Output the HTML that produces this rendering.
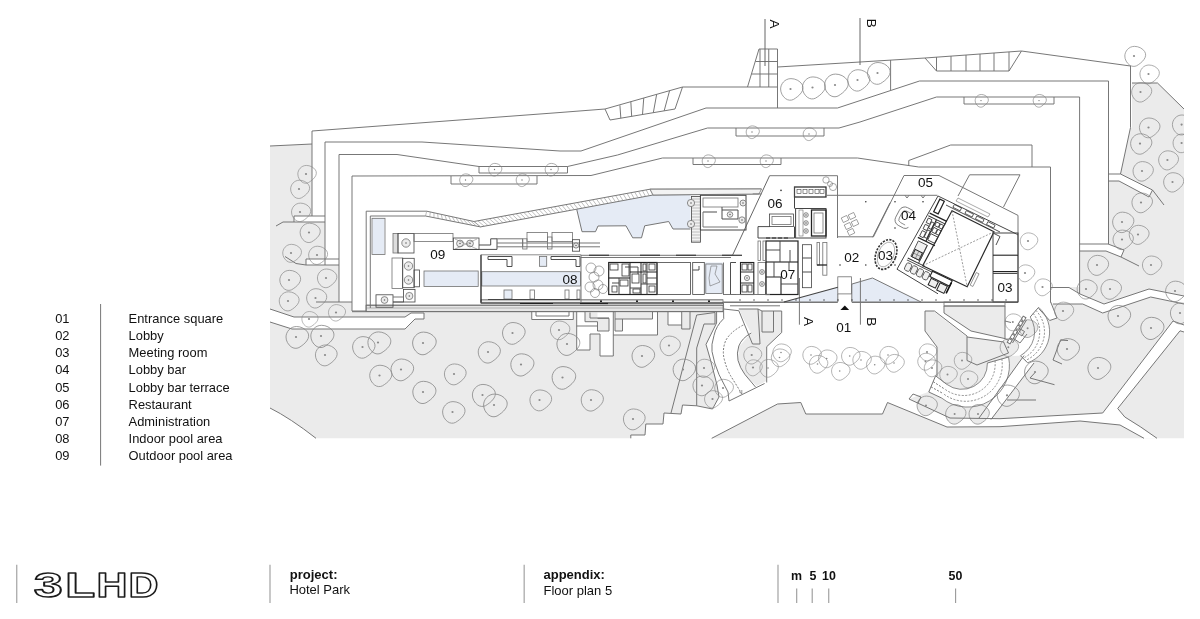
<!DOCTYPE html>
<html><head><meta charset="utf-8"><title>Hotel Park - Floor plan 5</title>
<style>
html,body{margin:0;padding:0;background:#fff;}
body{width:1200px;height:619px;overflow:hidden;position:relative;font-family:"Liberation Sans",Arial,sans-serif;}
svg{position:absolute;left:0;top:0;display:block;will-change:transform}
text{font-family:"Liberation Sans",Arial,sans-serif;}
</style></head><body>
<svg width="1200" height="619" viewBox="0 0 1200 619">
<defs>
<path id="tr" d="M0.5 -10.7 C5 -10.7 9.5 -8.5 11.8 -5 C13.5 -2.5 13.3 1 11 4 C9 6.8 6 9 3 10.8 C0.5 12 -2.5 11.8 -5 10 C-8 7.8 -10.2 4 -10.2 0 C-10.2 -5 -6 -10.7 0.5 -10.7 Z"/>
</defs>
<g id="gray">
<path d="M270 146 L312 144 L312 222 L325 222 L325 265 L339 265 L339 302 L352 302 L352 311 L716.6 311 L716.6 323 L706 344.4 L710.5 360 L717 385 L719 397 L712.5 409 L696.7 405.8 L682.5 405 L681 414 L664 413 L663 424 L645.8 424 L645 435 L630.8 435 L630.8 438.3 L316 438.3 Q290 418 270 408 Z" fill="#ebebeb"/>
<path d="M739 309 L758 309 L762 311 L781.7 311 L781.7 332.5 L766.7 346.7 L766.7 380.8 L756.7 386 L745 375 L738 361.7 L739 346.7 L750 334 Z" fill="#ebebeb" />
<path d="M1079.5 244 L1108 244 L1108 174 L1120.5 174 L1130.5 127.5 L1132 127.5 L1132 83 L1157.5 83 L1184 109 L1184 438.3 L711.7 438.3 L777.5 404 L800.8 402.5 L805.8 414 L882.5 414 L887.5 402.5 L909 399 L928 392 L935.7 375.6 L937 347 L925 331 L925 311 L944 311 L944 306 L1005 306 L1005 311 L1050.5 311 L1050.5 287 L1079.5 287 Z" fill="#ebebeb" />
</g>
<g id="white" fill="#fff">
<rect x="294" y="216" width="31" height="6" fill="#fff"/>
<rect x="306" y="259" width="33" height="6" fill="#fff"/>
<path d="M270 309 L294 317 L405 317 L411 313 L424 313 L424 319 L415 319 L405 329 L292 329 L270 322 Z" fill="#fff" />
<rect x="531.75" y="311.7" width="41.55" height="7.8" fill="#fff"/>
<path d="M576.7 311.7 L576.7 350 L590 350 L590 334 L600 334 L600 356 L613.3 356 L613.3 335 L657.5 335 L657.5 311.7 Z" fill="#fff" />
<rect x="585" y="312.5" width="12.5" height="9.2" fill="#ebebeb"/>
<rect x="597.5" y="318.3" width="11.5" height="12.7" fill="#ebebeb"/>
<rect x="615" y="312.5" width="37.5" height="6.5" fill="#ebebeb"/>
<rect x="615" y="319" width="7.5" height="12" fill="#ebebeb"/>
<path d="M668 311.7 L668 325 L681.7 325 L681.7 329 L690 329 L690 311.7 Z" fill="#fff" />
<rect x="681.7" y="312.5" width="8.3" height="16.5" fill="#ebebeb"/>
<path d="M723.7 309 L738.8 310.7 L751.2 333 Q742 338 738.8 346 Q736.5 353 738 360.4 Q740 368 745 374.6 L755.5 387 L729 401 L728 392 L719 374.6 Q714 363 712 351.5 Q711 345 714 335.5 Q716 326 723.7 318.6 Z" fill="#fff"/>
<path d="M1050.5 287.5 L1069 287.5 L1080 294 L1104 304 L1149 289 L1184 296 L1184 304 L1150.7 297 L1102.7 313 L1082.7 304 L1053 304 L1050.5 302 Z" fill="#fff" />
<path d="M1108 174 L1120.5 174 L1152.5 190 L1149 197 L1119 181 L1108 181 Z" fill="#fff" />
<path d="M1079.5 244 L1108 244 L1124 250 L1121 257 L1106 251 L1079.5 251 Z" fill="#fff" />
<path d="M1005 306 L1005 303 L1051 302 L1057 318 L1049.7 320.5 L1045 316 L1036 340 L1020.5 355.7 L1010 356 L1008.5 353 L1003.6 342 L1005 338.6 Z" fill="#fff" />
<path d="M934.5 311 L944 311 L944 313 L971 331 L1005 338.6 L1004 342 L967 337 L934.5 312 Z" fill="#fff" />
<rect x="934.5" y="305" width="9.5" height="6" fill="#fff"/>
<path d="M1008.6 357.0 A41.8 41.8 0 0 1 941.6 398.0 L946.7 384.3 A25.5 25.5 0 0 0 987.4 363.0 Z" fill="#fff"/>
<path d="M946.7 384.3 L941.6 398 L928.8 392 L935.6 375.8 Z" fill="#fff" />
<path d="M1038.6 307.3 A32.8 32.8 0 0 1 1027.6 362.8 L1020.5 355.7 A27.3 27.3 0 0 0 1030.2 317.0 Z" fill="#fff"/>
<path d="M1024 355.6 L1034 363 L991 419.5 L979 418 Z" fill="#fff" />
<path d="M1173 321 L1184 325 L1184 332 L1180 330.8 L1117.7 408.5 L1124.8 417 L1157 438.3 L1144 438.3 L1120 425 L1080 421 L1000 426.7 L947 427 L887.5 402.5 L886.5 400.5 L909 397 L909 399 L950 418 L1000 418.7 L1102.7 413 Z" fill="#fff" />
</g>
<g fill="#ebebeb" stroke="#858585" stroke-width="0.8">
<use href="#tr" transform="translate(1027.6 328.3) scale(0.8)"/><circle cx="1027.6" cy="328.3" r="1" fill="#8a8a8a" stroke="none"/>
<use href="#tr" transform="translate(1008.3 347.3) scale(0.8)"/><circle cx="1008.3" cy="347.3" r="1" fill="#8a8a8a" stroke="none"/>
<use href="#tr" transform="translate(926 405.5) scale(0.88)"/><circle cx="926" cy="405.5" r="1" fill="#8a8a8a" stroke="none"/>
<use href="#tr" transform="translate(954.6 414) scale(0.88)"/><circle cx="954.6" cy="414" r="1" fill="#8a8a8a" stroke="none"/>
<use href="#tr" transform="translate(978 414) scale(0.88)"/><circle cx="978" cy="414" r="1" fill="#8a8a8a" stroke="none"/>
</g>
<g id="blue">
<rect x="372.5" y="218" width="12" height="36" fill="#e5ebf5"/>
<rect x="424" y="271" width="54.2" height="15.4" fill="#e5ebf5"/>
<rect x="481.8" y="271.7" width="98.6" height="14.3" fill="#e5ebf5"/>
<path d="M576.7 209.2 L653 195 L690.5 194.3 L690.5 229 L673 229 L668.7 221.5 L644.7 225.8 L641.5 237.8 L632.7 237.8 L626 225.8 L598 226 L595.5 231.7 L582 231.7 Z" fill="#e5ebf5" />
<rect x="705" y="262.5" width="17.5" height="31.5" fill="#e5ebf5"/>
<path d="M783.9 302 L837.8 287.2 L837.8 302 Z" fill="#e5ebf5" />
<path d="M852 284 L872.5 278 L921 302 L852 302 Z" fill="#e5ebf5" />
</g>
<g id="site" fill="none" stroke="#707070" stroke-width="0.95">
<path d="M270 146 L312 144" fill="none" stroke="#707070" stroke-width="0.95" />
<path d="M312 216 L312 131 L560 112.5 L605 109 L682.5 87 L777.5 87" fill="none" stroke="#707070" stroke-width="0.95" />
<path d="M777.5 49 L777.5 108" fill="none" stroke="#707070" stroke-width="0.95" />
<path d="M777.5 67 L860 62 L925 58 L1021.5 51 L1130.5 66 L1130.5 127.5 L1120.5 174" fill="none" stroke="#707070" stroke-width="0.95" />
<path d="M325 265 L325 142 L422 142 L560 151 L581 151 L706 108 L837.5 108 L860 100.6 L919.5 81 L1108.5 81 L1108.5 244" fill="none" stroke="#707070" stroke-width="0.95" />
<path d="M339 302 L339 154.5 L397 154.5 L479 166.5 L567.5 166.5 L617.5 155 L707.5 128 L839 128 L860 122 L936.5 97 L1079.6 97 L1079.6 294" fill="none" stroke="#707070" stroke-width="0.95" />
<path d="M352 311 L352 176 L591 175.5 L662.5 158 L857.5 158 L918.75 167 L1050.5 167 L1050.5 302.5" fill="none" stroke="#707070" stroke-width="0.95" />
<path d="M352 311 L723 311" fill="none" stroke="#707070" stroke-width="0.95" />
<path d="M294 222 L294 216 L325 216" fill="none" stroke="#707070" stroke-width="0.95" />
<path d="M294 222 L325 222" fill="none" stroke="#707070" stroke-width="0.95" />
<path d="M306 265 L306 259 L339 259" fill="none" stroke="#707070" stroke-width="0.95" />
<path d="M306 265 L339 265" fill="none" stroke="#707070" stroke-width="0.95" />
<path d="M316 302 L352 302" fill="none" stroke="#707070" stroke-width="0.95" />
<path d="M285 256.5 L296 263.5 L306 265" fill="none" stroke="#707070" stroke-width="0.95" />
<path d="M276 226 L283 222 L294 222" fill="none" stroke="#707070" stroke-width="0.95" />
<path d="M451 176 L451 184 L537 184 L537 176" fill="none" stroke="#707070" stroke-width="0.95" />
<path d="M479 166.5 L479 173 L567.5 173 L567.5 166.5" fill="none" stroke="#707070" stroke-width="0.95" />
<path d="M736 128 L736 136 L824 136 L824 128" fill="none" stroke="#707070" stroke-width="0.95" />
<path d="M693 158 L693 164.5 L781 164.5 L781 158" fill="none" stroke="#707070" stroke-width="0.95" />
<path d="M964 97 L964 104 L1054 104 L1054 97" fill="none" stroke="#707070" stroke-width="0.95" />
<path d="M908.75 166 L908.75 160.5 L950.7 145 L1032 145 L1032 167" fill="none" stroke="#707070" stroke-width="0.95" />
<path d="M605 109 L610 120 L675 109 L682.5 87" fill="none" stroke="#707070" stroke-width="0.95" />
<path d="M619.917 105.333 L620.833 118.167" fill="none" stroke="#707070" stroke-width="0.95" />
<path d="M630.833 101.667 L631.667 116.333" fill="none" stroke="#707070" stroke-width="0.95" />
<path d="M643.75 98 L642.5 114.5" fill="none" stroke="#707070" stroke-width="0.95" />
<path d="M656.667 94.3333 L653.333 112.667" fill="none" stroke="#707070" stroke-width="0.95" />
<path d="M669.583 90.6667 L664.167 110.833" fill="none" stroke="#707070" stroke-width="0.95" />
<path d="M777.5 49 L759 49 L747.5 87" fill="none" stroke="#707070" stroke-width="0.95" />
<path d="M760 49 L760 87" fill="none" stroke="#707070" stroke-width="0.95" />
<path d="M768.75 49 L768.75 87" fill="none" stroke="#707070" stroke-width="0.95" />
<path d="M755.5 61.5 L777.5 61.5" fill="none" stroke="#707070" stroke-width="0.95" />
<path d="M751.5 74 L777.5 74" fill="none" stroke="#707070" stroke-width="0.95" />
<path d="M925 58 L936.5 71 L1009 71 L1021.5 51" fill="none" stroke="#707070" stroke-width="0.95" />
<path d="M936.5 57.1658 L936.5 71" fill="none" stroke="#707070" stroke-width="0.95" />
<path d="M951 56.114 L951 71" fill="none" stroke="#707070" stroke-width="0.95" />
<path d="M966 55.0259 L966 71" fill="none" stroke="#707070" stroke-width="0.95" />
<path d="M980 54.0104 L980 71" fill="none" stroke="#707070" stroke-width="0.95" />
<path d="M994 52.9948 L994 71" fill="none" stroke="#707070" stroke-width="0.95" />
<path d="M1009 51.9067 L1009 71" fill="none" stroke="#707070" stroke-width="0.95" />
<path d="M890.6 60 L890.6 90" fill="none" stroke="#707070" stroke-width="0.95" />
<path d="M765 19 L765 66" fill="none" stroke="#666" stroke-width="1.0" />
<path d="M860 18 L860 65" fill="none" stroke="#666" stroke-width="1.0" />
<path d="M799.4 278 L799.4 324.7" fill="none" stroke="#777" stroke-width="1.0" />
<path d="M860.4 278 L860.4 324.7" fill="none" stroke="#777" stroke-width="1.0" />
<path d="M270 309 L294 317 L405 317 L411 313 L424 313 L424 319 L415 319 L405 329 L292 329 L270 322" fill="none" stroke="#707070" stroke-width="0.95" />
<path d="M270 408 Q290 418 316 438.3"/>
<path d="M531.75 311.7 L531.75 319.5 L573.3 319.5 L573.3 311.7" fill="none" stroke="#707070" stroke-width="0.95" />
<path d="M536 311.7 L536 316 L569 316 L569 311.7" fill="none" stroke="#707070" stroke-width="0.95" />
<path d="M576.7 311.7 L576.7 350 L590 350 L590 334 L600 334 L600 356 L613.3 356 L613.3 311.7" fill="none" stroke="#707070" stroke-width="0.95" />
<path d="M613.3 335 L657.5 335 L657.5 311.7" fill="none" stroke="#707070" stroke-width="0.95" />
<path d="M585 311.7 L585 321.7 L597.5 321.7 L597.5 331 L609 331 L609 318.3 L597.5 318.3" fill="none" stroke="#707070" stroke-width="0.95" />
<path d="M576.7 326 L597.5 326" fill="none" stroke="#707070" stroke-width="0.95" />
<path d="M590 312.5 L590 318 L609 318" fill="none" stroke="#707070" stroke-width="0.95" />
<path d="M615 319 L652.5 319 L652.5 311.7" fill="none" stroke="#707070" stroke-width="0.95" />
<path d="M615 312 L615 331 L622.5 331 L622.5 319" fill="none" stroke="#707070" stroke-width="0.95" />
<path d="M668 311.7 L668 325 L681.7 325 L681.7 329 L690 329 L690 311.7" fill="none" stroke="#707070" stroke-width="0.95" />
<path d="M681.7 311.7 L681.7 325" fill="none" stroke="#707070" stroke-width="0.95" />
<path d="M696.7 315 L671 413" fill="none" stroke="#707070" stroke-width="0.95" />
<path d="M696.7 315 L715 312.5 L715 324 L704 324 L696.7 348 L696.7 405.8" fill="none" stroke="#707070" stroke-width="0.95" />
<path d="M716.6 312 L716.6 323 L706 344.4 L710.5 360 L717 385 L719 397 L712.5 409" fill="none" stroke="#707070" stroke-width="0.95" />
<path d="M723.5 303 L723.7 318.6 Q716 326 714 335.5 Q711 345 712 351.5 Q714 363 719 374.6 L728 392 L729 401 L764.6 383.5"/>
<path d="M751.2 333 Q742 338 738.8 346 Q736.5 353 738 360.4 Q740 368 745 374.6 L755.5 387"/>
<path d="M743.3 325 Q730 332 725.5 341 Q722.5 349 723.7 356.8 Q726 368 731 376.4 L741.5 393.3" stroke-dasharray="2 1.5"/>
<path d="M739 391.5 L741.8 393.8 L741.8 390" stroke-width="0.7"/>
<path d="M723.7 309 L738.8 310.7 L752.5 344 L760 344 L758 309 L738.8 309" fill="none" stroke="#707070" stroke-width="0.95" />
<path d="M758 309 L762 311 L781.7 311 L781.7 332.5 L766.7 346.7 L766.7 382.5" fill="none" stroke="#707070" stroke-width="0.95" />
<path d="M762 311 L762 332 L773.5 332 L773.5 311" fill="none" stroke="#707070" stroke-width="0.95" />
<path d="M712.5 409 L696.7 405.8 L682.5 405 L681 414 L664 413 L663 424 L645.8 424 L645 435 L630.8 435 L630.8 438.3" fill="none" stroke="#707070" stroke-width="0.95" />
<path d="M711.7 438.3 L777.5 404 L800.8 402.5 L805.8 414 L882.5 414 L887.5 402.5 L947 427 L1000 426.7 L1080 421 L1120 425 L1144 438.3" fill="none" stroke="#707070" stroke-width="0.95" />
<path d="M909 399 L950 418 L1000 418.7 L1102.7 413 L1173 321 L1184 325" fill="none" stroke="#707070" stroke-width="0.95" />
<path d="M1184 332 L1180 330.8 L1117.7 408.5 L1124.8 417" fill="none" stroke="#707070" stroke-width="0.95" />
<path d="M1124.8 417 Q1140 426 1157 438.3"/>
<path d="M909 399 L913 394 L921 397 L918 403" fill="none" stroke="#707070" stroke-width="0.95" />
<path d="M937 376 L937 347 L925 331 L925 311 L934.5 311 L967 336 L967 360.5 L977 365 L1008.5 353 L1003.6 342" fill="none" stroke="#707070" stroke-width="0.95" />
<path d="M944 311 L944 306 L1005 306 L1005 338.6 L971 331 L944 313 L944 311" fill="none" stroke="#707070" stroke-width="0.95" />
<path d="M967 337 L1004 342" fill="none" stroke="#707070" stroke-width="0.95" />
<path d="M1008.6 357.0 A41.8 41.8 0 0 1 941.6 398.0" fill="none" stroke="#707070" stroke-width="0.8" />
<path d="M987.4 363.0 A25.5 25.5 0 0 1 946.7 384.3" fill="none" stroke="#707070" stroke-width="0.8" />
<path d="M995.0 360.8 A31.4 31.4 0 0 1 944.9 389.2" fill="none" stroke="#707070" stroke-width="0.8" stroke-dasharray="2 1.5"/>
<path d="M1001.8 358.9 A36.6 36.6 0 0 1 943.2 393.6" fill="none" stroke="#707070" stroke-width="0.8" stroke-dasharray="2 1.5"/>
<path d="M1038.6 307.3 A32.8 32.8 0 0 1 1027.6 362.8" fill="none" stroke="#707070" stroke-width="0.8" />
<path d="M1030.2 317.0 A27.3 27.3 0 0 1 1020.5 355.7" fill="none" stroke="#707070" stroke-width="0.8" />
<path d="M1033.2 313.5 A29.3 29.3 0 0 1 1023.1 358.3" fill="none" stroke="#707070" stroke-width="0.8" stroke-dasharray="2 1.5"/>
<path d="M1035.9 310.4 A31.0 31.0 0 0 1 1025.3 360.5" fill="none" stroke="#707070" stroke-width="0.8" stroke-dasharray="2 1.5"/>
<path d="M946.7 384.3 L935.6 375.8 L928.8 392 L941.6 398" fill="none" stroke="#707070" stroke-width="0.95" />
<path d="M933.152 381.632 L944.864 389.232" fill="none" stroke="#707070" stroke-width="0.95" stroke-dasharray="2 1.5"/>
<path d="M930.976 386.816 L943.232 393.616" fill="none" stroke="#707070" stroke-width="0.95" stroke-dasharray="2 1.5"/>
<path d="M987.4 363 L1008.6 357" fill="none" stroke="#707070" stroke-width="0.95" />
<path d="M1030.2 317 L1038.6 307.3" fill="none" stroke="#707070" stroke-width="0.95" />
<path d="M1020.5 355.7 L1027.6 362.8" fill="none" stroke="#707070" stroke-width="0.95" />
<path d="M1024 355.6 L979 418" fill="none" stroke="#707070" stroke-width="0.95" />
<path d="M1034 363 L991 419.5" fill="none" stroke="#707070" stroke-width="0.95" />
<rect x="1008.1" y="339.2" width="3.2" height="4.2" fill="#fff" transform="rotate(31 1009.7 341.3)"/>
<rect x="1010.9" y="334.7" width="3.2" height="4.2" fill="#fff" transform="rotate(31 1012.5 336.8)"/>
<rect x="1013.6" y="330.2" width="3.2" height="4.2" fill="#fff" transform="rotate(31 1015.2 332.3)"/>
<rect x="1016.4" y="325.6" width="3.2" height="4.2" fill="#fff" transform="rotate(31 1018.0 327.7)"/>
<rect x="1019.1" y="321.1" width="3.2" height="4.2" fill="#fff" transform="rotate(31 1020.7 323.2)"/>
<rect x="1021.9" y="316.6" width="3.2" height="4.2" fill="#fff" transform="rotate(31 1023.5 318.7)"/>
<path d="M1012.5 343 L1026.5 320" fill="none" stroke="#707070" stroke-width="0.95" />
<path d="M1016 332 L1022 336 L1024.5 331.5 L1018.5 328" fill="none" stroke="#707070" stroke-width="0.95" />
<path d="M1013 338 L1020 343 L1027 334" fill="none" stroke="#707070" stroke-width="0.95" />
<path d="M1005 321 L1011 322.5" fill="none" stroke="#707070" stroke-width="0.95" />
<path d="M1005 338.6 L1008 340" fill="none" stroke="#707070" stroke-width="0.95" />
<path d="M1060.6 339.8 L1068 340.5" fill="none" stroke="#707070" stroke-width="1.2" />
<path d="M1060.6 339.8 L1053 360 L1062 364" fill="none" stroke="#707070" stroke-width="0.95" />
<path d="M1035 372.6 L1030 378 L1054.5 384.7" fill="none" stroke="#707070" stroke-width="0.95" />
<path d="M1007 400 L1036 400" fill="none" stroke="#707070" stroke-width="0.95" />
<path d="M1050.5 287.5 L1069 287.5 L1080 294 L1104 304 L1149 289 L1184 296" fill="none" stroke="#707070" stroke-width="0.95" />
<path d="M1050.7 302 L1057 318 L1049.7 320.5 L1038.6 308.4" fill="none" stroke="#707070" stroke-width="0.95" />
<path d="M1053 304 L1082.7 304 L1102.7 313 L1150.7 297 L1184 304" fill="none" stroke="#707070" stroke-width="0.95" />
<path d="M1108 174 L1120.5 174 L1152.5 190 L1149 197 L1119 181 L1108 181" fill="none" stroke="#707070" stroke-width="0.95" />
<path d="M1152.5 190 L1164 205" fill="none" stroke="#707070" stroke-width="0.95" />
<path d="M1079.5 244 L1108 244 L1124 250 L1121 257 L1106 251 L1079.5 251" fill="none" stroke="#707070" stroke-width="0.95" />
<path d="M1121 257 L1139 266" fill="none" stroke="#707070" stroke-width="0.95" />
<path d="M1132 83 L1157.5 83 L1184 109" fill="none" stroke="#707070" stroke-width="0.95" />
</g>
<g id="bldg" fill="none" stroke="#707070" stroke-width="0.8">
<rect x="366" y="305.2" width="357" height="6.4" fill="#e6e6e6"/>
<path d="M366 305.2 L723 305.2" fill="none" stroke="#707070" stroke-width="0.95" />
<path d="M366 308 L723 308" fill="none" stroke="#9a9a9a" stroke-width="0.7" />
<rect x="481" y="299.8" width="242" height="3.6" fill="#ececec"/>
<path d="M481 299.8 L723 299.8" fill="none" stroke="#8a8a8a" stroke-width="0.8" />
<rect x="600" y="300.4" width="2" height="1.6" fill="#222" stroke="none"/>
<rect x="636" y="300.4" width="2" height="1.6" fill="#222" stroke="none"/>
<rect x="672" y="300.4" width="2" height="1.6" fill="#222" stroke="none"/>
<rect x="708" y="300.4" width="2" height="1.6" fill="#222" stroke="none"/>
<path d="M352 311.7 L723 311.7" fill="none" stroke="#707070" stroke-width="0.95" />
<path d="M366.2 311 L366.2 211.2 L426.7 211.2 L474 221.5 L650 189.2 L761.5 189" fill="none" stroke="#707070" stroke-width="0.95" />
<path d="M370.3 308 L370.3 216 L425.5 216 L480.5 226.9 L576.7 209.2 L653 195 L752.7 194" fill="none" stroke="#707070" stroke-width="0.95" />
<path d="M426.7 211.2 L425.5 216" fill="none" stroke="#909090" stroke-width="0.6" />
<path d="M430.338 211.992 L429.731 216.838" fill="none" stroke="#909090" stroke-width="0.6" />
<path d="M433.977 212.785 L433.962 217.677" fill="none" stroke="#909090" stroke-width="0.6" />
<path d="M437.615 213.577 L438.192 218.515" fill="none" stroke="#909090" stroke-width="0.6" />
<path d="M441.254 214.369 L442.423 219.354" fill="none" stroke="#909090" stroke-width="0.6" />
<path d="M444.892 215.162 L446.654 220.192" fill="none" stroke="#909090" stroke-width="0.6" />
<path d="M448.531 215.954 L450.885 221.031" fill="none" stroke="#909090" stroke-width="0.6" />
<path d="M452.169 216.746 L455.115 221.869" fill="none" stroke="#909090" stroke-width="0.6" />
<path d="M455.808 217.538 L459.346 222.708" fill="none" stroke="#909090" stroke-width="0.6" />
<path d="M459.446 218.331 L463.577 223.546" fill="none" stroke="#909090" stroke-width="0.6" />
<path d="M463.085 219.123 L467.808 224.385" fill="none" stroke="#909090" stroke-width="0.6" />
<path d="M466.723 219.915 L472.038 225.223" fill="none" stroke="#909090" stroke-width="0.6" />
<path d="M470.362 220.708 L476.269 226.062" fill="none" stroke="#909090" stroke-width="0.6" />
<path d="M474 221.5 L480.5 226.9" fill="none" stroke="#909090" stroke-width="0.6" />
<path d="M474 221.5 L480.5 226.9" fill="none" stroke="#909090" stroke-width="0.6" />
<path d="M477.826 220.798 L484.25 226.207" fill="none" stroke="#909090" stroke-width="0.6" />
<path d="M481.652 220.096 L488 225.513" fill="none" stroke="#909090" stroke-width="0.6" />
<path d="M485.478 219.393 L491.75 224.82" fill="none" stroke="#909090" stroke-width="0.6" />
<path d="M489.304 218.691 L495.5 224.126" fill="none" stroke="#909090" stroke-width="0.6" />
<path d="M493.13 217.989 L499.25 223.433" fill="none" stroke="#909090" stroke-width="0.6" />
<path d="M496.957 217.287 L503 222.739" fill="none" stroke="#909090" stroke-width="0.6" />
<path d="M500.783 216.585 L506.75 222.046" fill="none" stroke="#909090" stroke-width="0.6" />
<path d="M504.609 215.883 L510.5 221.352" fill="none" stroke="#909090" stroke-width="0.6" />
<path d="M508.435 215.18 L514.25 220.659" fill="none" stroke="#909090" stroke-width="0.6" />
<path d="M512.261 214.478 L518 219.965" fill="none" stroke="#909090" stroke-width="0.6" />
<path d="M516.087 213.776 L521.75 219.272" fill="none" stroke="#909090" stroke-width="0.6" />
<path d="M519.913 213.074 L525.5 218.578" fill="none" stroke="#909090" stroke-width="0.6" />
<path d="M523.739 212.372 L529.25 217.885" fill="none" stroke="#909090" stroke-width="0.6" />
<path d="M527.565 211.67 L533 217.191" fill="none" stroke="#909090" stroke-width="0.6" />
<path d="M531.391 210.967 L536.75 216.498" fill="none" stroke="#909090" stroke-width="0.6" />
<path d="M535.217 210.265 L540.5 215.804" fill="none" stroke="#909090" stroke-width="0.6" />
<path d="M539.043 209.563 L544.25 215.111" fill="none" stroke="#909090" stroke-width="0.6" />
<path d="M542.87 208.861 L548 214.417" fill="none" stroke="#909090" stroke-width="0.6" />
<path d="M546.696 208.159 L551.75 213.724" fill="none" stroke="#909090" stroke-width="0.6" />
<path d="M550.522 207.457 L555.5 213.03" fill="none" stroke="#909090" stroke-width="0.6" />
<path d="M554.348 206.754 L559.25 212.337" fill="none" stroke="#909090" stroke-width="0.6" />
<path d="M558.174 206.052 L563 211.643" fill="none" stroke="#909090" stroke-width="0.6" />
<path d="M562 205.35 L566.75 210.95" fill="none" stroke="#909090" stroke-width="0.6" />
<path d="M565.826 204.648 L570.5 210.257" fill="none" stroke="#909090" stroke-width="0.6" />
<path d="M569.652 203.946 L574.25 209.563" fill="none" stroke="#909090" stroke-width="0.6" />
<path d="M573.478 203.243 L578 208.87" fill="none" stroke="#909090" stroke-width="0.6" />
<path d="M577.304 202.541 L581.75 208.176" fill="none" stroke="#909090" stroke-width="0.6" />
<path d="M581.13 201.839 L585.5 207.483" fill="none" stroke="#909090" stroke-width="0.6" />
<path d="M584.957 201.137 L589.25 206.789" fill="none" stroke="#909090" stroke-width="0.6" />
<path d="M588.783 200.435 L593 206.096" fill="none" stroke="#909090" stroke-width="0.6" />
<path d="M592.609 199.733 L596.75 205.402" fill="none" stroke="#909090" stroke-width="0.6" />
<path d="M596.435 199.03 L600.5 204.709" fill="none" stroke="#909090" stroke-width="0.6" />
<path d="M600.261 198.328 L604.25 204.015" fill="none" stroke="#909090" stroke-width="0.6" />
<path d="M604.087 197.626 L608 203.322" fill="none" stroke="#909090" stroke-width="0.6" />
<path d="M607.913 196.924 L611.75 202.628" fill="none" stroke="#909090" stroke-width="0.6" />
<path d="M611.739 196.222 L615.5 201.935" fill="none" stroke="#909090" stroke-width="0.6" />
<path d="M615.565 195.52 L619.25 201.241" fill="none" stroke="#909090" stroke-width="0.6" />
<path d="M619.391 194.817 L623 200.548" fill="none" stroke="#909090" stroke-width="0.6" />
<path d="M623.217 194.115 L626.75 199.854" fill="none" stroke="#909090" stroke-width="0.6" />
<path d="M627.043 193.413 L630.5 199.161" fill="none" stroke="#909090" stroke-width="0.6" />
<path d="M630.87 192.711 L634.25 198.467" fill="none" stroke="#909090" stroke-width="0.6" />
<path d="M634.696 192.009 L638 197.774" fill="none" stroke="#909090" stroke-width="0.6" />
<path d="M638.522 191.307 L641.75 197.08" fill="none" stroke="#909090" stroke-width="0.6" />
<path d="M642.348 190.604 L645.5 196.387" fill="none" stroke="#909090" stroke-width="0.6" />
<path d="M646.174 189.902 L649.25 195.693" fill="none" stroke="#909090" stroke-width="0.6" />
<path d="M650 189.2 L653 195" fill="none" stroke="#909090" stroke-width="0.6" />
<path d="M650 189.2 L761.5 189 L759 194 L653 195 Z" fill="#f3f3f3" />
<path d="M576.7 209.2 L582 231.7 L595.5 231.7 L598 226 L626 225.8 L632.7 237.8 L641.5 237.8 L644.7 225.8 L668.7 221.5 L673 229 L690.5 229" fill="none" stroke="#707070" stroke-width="0.95" />
<rect x="372" y="218.3" width="13" height="36.1" fill="none" stroke="#707070" stroke-width="0.8"/>
<rect x="424" y="271" width="54.2" height="15.4" fill="none" stroke="#707070" stroke-width="0.8"/>
<rect x="481.8" y="271.7" width="98.6" height="14.3" fill="none" stroke="#707070" stroke-width="0.8"/>
<rect x="393" y="233.4" width="5" height="19.6" fill="#ddd" stroke="#707070" stroke-width="0.8"/>
<rect x="398" y="233.4" width="16" height="19.6" fill="none" stroke="#444" stroke-width="0.8"/>
<circle cx="406" cy="243" r="4.2" fill="#ebebeb"/><circle cx="406" cy="243" r="0.8" fill="#666" stroke="none"/>
<rect x="392" y="258" width="10.7" height="30.5" fill="none" stroke="#707070" stroke-width="0.8"/>
<rect x="402.7" y="258.3" width="11.5" height="29.4" fill="none" stroke="#444" stroke-width="0.8"/>
<circle cx="408.5" cy="266" r="4.2" fill="#ebebeb"/><circle cx="408.5" cy="266" r="0.8" fill="#666" stroke="none"/>
<circle cx="408.5" cy="280" r="4.2" fill="#ebebeb"/><circle cx="408.5" cy="280" r="0.8" fill="#666" stroke="none"/>
<rect x="414" y="270" width="5.5" height="16.8" fill="none" stroke="#444" stroke-width="0.8"/>
<rect x="403.5" y="289.4" width="11.5" height="12.6" fill="none" stroke="#444" stroke-width="0.8"/>
<circle cx="409.3" cy="296" r="3.6" fill="#ebebeb"/><circle cx="409.3" cy="296" r="0.8" fill="#666" stroke="none"/>
<rect x="376" y="294.8" width="17" height="12.4" fill="none" stroke="#444" stroke-width="0.8"/>
<circle cx="384.5" cy="300" r="3.4" fill="#ebebeb"/><circle cx="384.5" cy="300" r="0.8" fill="#666" stroke="none"/>
<path d="M393 302 L403.5 302" fill="none" stroke="#444" stroke-width="1.2" />
<path d="M393 297 L403.5 297" fill="none" stroke="#707070" stroke-width="0.95" />
<rect x="414" y="233.4" width="39" height="8" fill="none" stroke="#707070" stroke-width="0.8"/>
<rect x="453.3" y="238" width="25.7" height="11.4" fill="none" stroke="#444" stroke-width="0.8"/>
<circle cx="460" cy="243.5" r="3.4" fill="#ebebeb"/><circle cx="460" cy="243.5" r="0.8" fill="#666" stroke="none"/>
<circle cx="470" cy="243.5" r="3.4" fill="#ebebeb"/><circle cx="470" cy="243.5" r="0.8" fill="#666" stroke="none"/>
<path d="M455 239 L477 249" fill="none" stroke="#707070" stroke-width="0.5" />
<path d="M455 249 L477 239" fill="none" stroke="#707070" stroke-width="0.5" />
<path d="M479 245 L490.7 245 L490.7 238.8 L497 238.8 L497 249.4 L453.3 249.4" fill="none" stroke="#444" stroke-width="0.95" />
<path d="M497 238.8 L522.7 238.8 L522.7 246.8 L497 246.8" fill="none" stroke="#707070" stroke-width="0.95" />
<rect x="527" y="232.5" width="20.5" height="8.9" fill="none" stroke="#707070" stroke-width="0.8"/>
<rect x="552" y="232.5" width="20.4" height="8.9" fill="none" stroke="#707070" stroke-width="0.8"/>
<path d="M497 243 L600 243" fill="none" stroke="#707070" stroke-width="0.95" />
<path d="M522.7 246.8 L600 246.8" fill="none" stroke="#707070" stroke-width="0.95" />
<rect x="522.7" y="238.8" width="4.3" height="10.2" fill="none" stroke="#707070" stroke-width="0.8"/>
<rect x="547.5" y="237" width="4.5" height="12" fill="none" stroke="#707070" stroke-width="0.8"/>
<rect x="572.4" y="239.7" width="7.2" height="11.5" fill="none" stroke="#444" stroke-width="0.8"/>
<circle cx="576" cy="245.5" r="2.6" fill="#ebebeb"/><circle cx="576" cy="245.5" r="0.8" fill="#666" stroke="none"/>
<path d="M481 254.8 L481 302.8" fill="none" stroke="#222" stroke-width="1.3" />
<path d="M481 254.8 L581 254.8" fill="none" stroke="#707070" stroke-width="0.8" />
<path d="M481 302.8 L723 302.8" fill="none" stroke="#444" stroke-width="1.0" />
<path d="M581 254.8 L581 302.8" fill="none" stroke="#707070" stroke-width="0.95" />
<path d="M488 256.5 L512 256.5 L512 266.5 L507 266.5 L507 259.5 L488 259.5 L488 256.5" fill="none" stroke="#444" stroke-width="0.95" />
<path d="M551 256.5 L580 256.5 L580 266.5 L576 266.5 L576 259.5 L551 259.5 L551 256.5" fill="none" stroke="#444" stroke-width="0.95" />
<rect x="539.5" y="256.5" width="7.2" height="9.8" fill="#e5ebf5" stroke="#707070" stroke-width="0.8"/>
<rect x="504" y="290" width="8" height="9" fill="#e8eef7" stroke="#707070" stroke-width="0.8"/>
<rect x="530" y="290" width="4.5" height="9" fill="none" stroke="#707070" stroke-width="0.8"/>
<rect x="565" y="290" width="4" height="9" fill="none" stroke="#707070" stroke-width="0.8"/>
<rect x="577" y="290" width="3" height="9" fill="none" stroke="#707070" stroke-width="0.8"/>
<path d="M488 299.5 L580 299.5" fill="none" stroke="#444" stroke-width="1.0" />
<path d="M520 303.5 L553 303.5" fill="none" stroke="#222" stroke-width="1.2" />
<path d="M580 303.5 L608 303.5" fill="none" stroke="#222" stroke-width="1.2" />
<circle cx="591" cy="268" r="5" stroke-width="0.6"/>
<circle cx="599" cy="271" r="5" stroke-width="0.6"/>
<circle cx="594" cy="277" r="5" stroke-width="0.6"/>
<circle cx="590" cy="287" r="5" stroke-width="0.6"/>
<circle cx="598" cy="285" r="5" stroke-width="0.6"/>
<circle cx="603" cy="289" r="4.5" stroke-width="0.6"/>
<circle cx="595" cy="293" r="4.5" stroke-width="0.6"/>
<path d="M581 255.3 L733 255.3" fill="none" stroke="#707070" stroke-width="0.95" />
<path d="M581 257.5 L731 257.5" fill="none" stroke="#707070" stroke-width="0.95" />
<path d="M589 255.3 L609 255.3" fill="none" stroke="#444" stroke-width="1.3" />
<path d="M640 255.3 L660 255.3" fill="none" stroke="#444" stroke-width="1.3" />
<path d="M676 255.3 L696 255.3" fill="none" stroke="#444" stroke-width="1.3" />
<path d="M722 255.3 L742 255.3" fill="none" stroke="#444" stroke-width="1.3" />
<rect x="608.7" y="262.5" width="48.3" height="32" fill="none" stroke="#222" stroke-width="1.2"/>
<path d="M608.7 278 L630 278" fill="none" stroke="#222" stroke-width="1.1" />
<path d="M630 262.5 L630 294.5" fill="none" stroke="#222" stroke-width="1.0" />
<path d="M641 262.5 L641 294.5" fill="none" stroke="#222" stroke-width="1.0" />
<path d="M630 272 L657 272" fill="none" stroke="#222" stroke-width="1.0" />
<path d="M619 278 L619 294.5" fill="none" stroke="#444" stroke-width="0.95" />
<path d="M641 284 L657 284" fill="none" stroke="#444" stroke-width="0.95" />
<path d="M625 267 L638 267 L638 274" fill="none" stroke="#444" stroke-width="0.95" />
<path d="M647 262.5 L647 294.5" fill="none" stroke="#444" stroke-width="0.95" />
<path d="M630 288 L641 288" fill="none" stroke="#444" stroke-width="0.95" />
<path d="M612 283 L619 283" fill="none" stroke="#444" stroke-width="0.95" />
<path d="M647 278 L657 278" fill="none" stroke="#444" stroke-width="0.95" />
<rect x="610" y="264" width="8" height="6" fill="none" stroke="#333" stroke-width="0.8"/>
<rect x="620" y="280" width="8" height="6" fill="none" stroke="#333" stroke-width="0.8"/>
<rect x="632" y="274" width="7" height="9" fill="none" stroke="#333" stroke-width="0.8"/>
<rect x="643" y="264" width="3" height="7" fill="none" stroke="#333" stroke-width="0.8"/>
<rect x="649" y="286" width="6" height="6" fill="none" stroke="#333" stroke-width="0.8"/>
<rect x="633" y="289" width="7" height="4" fill="none" stroke="#333" stroke-width="0.8"/>
<rect x="612" y="286" width="5" height="6" fill="none" stroke="#333" stroke-width="0.8"/>
<rect x="622" y="264" width="7" height="12" fill="none" stroke="#333" stroke-width="0.8"/>
<rect x="643" y="274" width="3" height="9" fill="none" stroke="#333" stroke-width="0.8"/>
<rect x="649" y="264" width="6" height="6" fill="none" stroke="#333" stroke-width="0.8"/>
<rect x="657" y="262.5" width="33.5" height="32" fill="none" stroke="#444" stroke-width="0.8"/>
<rect x="692.7" y="262.5" width="11.6" height="32" fill="none" stroke="#444" stroke-width="0.8"/>
<path d="M692.7 270 L699 270 L699 266" fill="none" stroke="#444" stroke-width="0.95" />
<rect x="705.8" y="264" width="16.4" height="29.5" fill="none" stroke="#707070" stroke-width="0.8"/>
<path d="M711 266 L717 266 L715 274 L720 282 L710 286 L709 278 L711 266" fill="none" stroke="#707070" stroke-width="0.6" />
<path d="M723.5 262.5 L723.5 294.5" fill="none" stroke="#707070" stroke-width="0.95" />
<path d="M736 262.5 L730.5 262.5 L730.5 294.5 L736 294.5" fill="none" stroke="#444" stroke-width="0.95" />
<rect x="740.5" y="262.5" width="13.3" height="32" fill="none" stroke="#222" stroke-width="1.1"/>
<path d="M740.5 272 L753.8 272" fill="none" stroke="#222" stroke-width="0.95" />
<path d="M740.5 283 L753.8 283" fill="none" stroke="#222" stroke-width="0.95" />
<circle cx="747" cy="278" r="2.6" fill="#ebebeb"/><circle cx="747" cy="278" r="0.8" fill="#666" stroke="none"/>
<rect x="742" y="264" width="5" height="6" fill="none" stroke="#333" stroke-width="0.8"/>
<rect x="748" y="264" width="4" height="6" fill="none" stroke="#333" stroke-width="0.8"/>
<rect x="742" y="285" width="5" height="7" fill="none" stroke="#333" stroke-width="0.8"/>
<rect x="748" y="285" width="4" height="7" fill="none" stroke="#333" stroke-width="0.8"/>
<rect x="758" y="262.5" width="7.8" height="32" fill="none" stroke="#707070" stroke-width="0.8"/>
<circle cx="762" cy="272" r="2.4" fill="#ebebeb"/><circle cx="762" cy="272" r="0.8" fill="#666" stroke="none"/>
<circle cx="762" cy="284" r="2.4" fill="#ebebeb"/><circle cx="762" cy="284" r="0.8" fill="#666" stroke="none"/>
<rect x="691.6" y="196.4" width="8.8" height="45.8" fill="#f2f2f2" stroke="#444" stroke-width="0.8"/>
<path d="M691.6 199 L700.4 199" fill="none" stroke="#707070" stroke-width="0.4" />
<path d="M691.6 202 L700.4 202" fill="none" stroke="#707070" stroke-width="0.4" />
<path d="M691.6 205 L700.4 205" fill="none" stroke="#707070" stroke-width="0.4" />
<path d="M691.6 208 L700.4 208" fill="none" stroke="#707070" stroke-width="0.4" />
<path d="M691.6 211 L700.4 211" fill="none" stroke="#707070" stroke-width="0.4" />
<path d="M691.6 214 L700.4 214" fill="none" stroke="#707070" stroke-width="0.4" />
<path d="M691.6 217 L700.4 217" fill="none" stroke="#707070" stroke-width="0.4" />
<path d="M691.6 220 L700.4 220" fill="none" stroke="#707070" stroke-width="0.4" />
<path d="M691.6 223 L700.4 223" fill="none" stroke="#707070" stroke-width="0.4" />
<path d="M691.6 226 L700.4 226" fill="none" stroke="#707070" stroke-width="0.4" />
<path d="M691.6 229 L700.4 229" fill="none" stroke="#707070" stroke-width="0.4" />
<path d="M691.6 232 L700.4 232" fill="none" stroke="#707070" stroke-width="0.4" />
<path d="M691.6 235 L700.4 235" fill="none" stroke="#707070" stroke-width="0.4" />
<path d="M691.6 238 L700.4 238" fill="none" stroke="#707070" stroke-width="0.4" />
<path d="M691.6 241 L700.4 241" fill="none" stroke="#707070" stroke-width="0.4" />
<circle cx="691" cy="203" r="3.6" fill="#ebebeb"/><circle cx="691" cy="203" r="0.8" fill="#666" stroke="none"/>
<circle cx="691" cy="224" r="3.6" fill="#ebebeb"/><circle cx="691" cy="224" r="0.8" fill="#666" stroke="none"/>
<rect x="700.4" y="195.3" width="45.6" height="34.7" fill="none" stroke="#444" stroke-width="1.0"/>
<rect x="703" y="198" width="35" height="9" fill="none" stroke="#707070" stroke-width="0.8"/>
<path d="M703 212 L717 212" fill="none" stroke="#444" stroke-width="0.95" />
<path d="M703 212 L703 227 L738 227" fill="none" stroke="#707070" stroke-width="0.95" />
<path d="M722 207 L722 219 L738 219 L738 210 L722 210" fill="none" stroke="#444" stroke-width="0.95" />
<circle cx="730" cy="214.5" r="2.8" fill="#ebebeb"/><circle cx="730" cy="214.5" r="0.8" fill="#666" stroke="none"/>
<circle cx="743" cy="203" r="3" fill="#ebebeb"/><circle cx="743" cy="203" r="0.8" fill="#666" stroke="none"/>
<circle cx="742" cy="220" r="3.2" fill="#ebebeb"/><circle cx="742" cy="220" r="0.8" fill="#666" stroke="none"/>
<path d="M769.6 175.7 L732.5 255.3" fill="none" stroke="#555" stroke-width="0.9" />
<path d="M769.6 175.7 L837.5 175.7 L837.5 238" fill="none" stroke="#707070" stroke-width="0.95" />
<path d="M827 195.3 L937.5 195.3" fill="none" stroke="#707070" stroke-width="0.95" />
<path d="M752.7 194 L761.5 194" fill="none" stroke="#707070" stroke-width="0.95" />
<rect x="794.5" y="187" width="31.5" height="10" fill="none" stroke="#222" stroke-width="1.2"/>
<rect x="797" y="189.5" width="4" height="4" fill="none" stroke="#444" stroke-width="0.6"/>
<rect x="803" y="189.5" width="4" height="4" fill="none" stroke="#444" stroke-width="0.6"/>
<rect x="809" y="189.5" width="4" height="4" fill="none" stroke="#444" stroke-width="0.6"/>
<rect x="815" y="189.5" width="4" height="4" fill="none" stroke="#444" stroke-width="0.6"/>
<rect x="820" y="189.5" width="4" height="4" fill="none" stroke="#444" stroke-width="0.6"/>
<path d="M794.5 187 L794.5 208.5" fill="none" stroke="#444" stroke-width="1.0" />
<rect x="795.6" y="208.5" width="30.4" height="29.5" fill="none" stroke="#444" stroke-width="1.0"/>
<rect x="811.5" y="210" width="14.5" height="26" fill="none" stroke="#222" stroke-width="1.3"/>
<rect x="814" y="213" width="9" height="20" fill="none" stroke="#707070" stroke-width="0.8"/>
<circle cx="806" cy="215" r="2.3" fill="#ebebeb"/><circle cx="806" cy="215" r="0.8" fill="#666" stroke="none"/>
<circle cx="806" cy="223" r="2.3" fill="#ebebeb"/><circle cx="806" cy="223" r="0.8" fill="#666" stroke="none"/>
<circle cx="806" cy="231" r="2.3" fill="#ebebeb"/><circle cx="806" cy="231" r="0.8" fill="#666" stroke="none"/>
<rect x="799" y="210" width="4" height="26" fill="none" stroke="#707070" stroke-width="0.6"/>
<rect x="769.6" y="214" width="23.8" height="12.6" fill="none" stroke="#444" stroke-width="0.8"/>
<rect x="772" y="216.5" width="19" height="8" fill="none" stroke="#707070" stroke-width="0.8"/>
<path d="M758 226.6 L758 238 L794.5 238 L794.5 226.6" fill="none" stroke="#444" stroke-width="1.0" />
<path d="M758 226.6 L769.6 226.6" fill="none" stroke="#444" stroke-width="0.95" />
<path d="M766 238 L790 238" fill="none" stroke="#222" stroke-width="1.2" stroke-dasharray="4 2"/>
<rect x="766" y="241" width="32" height="53.5" fill="none" stroke="#222" stroke-width="1.2"/>
<path d="M766 262 L798 262" fill="none" stroke="#222" stroke-width="1.1" />
<path d="M780 241 L780 262" fill="none" stroke="#444" stroke-width="0.95" />
<path d="M766 250 L780 250" fill="none" stroke="#444" stroke-width="0.95" />
<path d="M790 250 L790 262" fill="none" stroke="#444" stroke-width="0.95" />
<path d="M766 277 L781 277 L781 294.5" fill="none" stroke="#222" stroke-width="1.1" />
<path d="M789 262 L789 270" fill="none" stroke="#444" stroke-width="0.95" />
<path d="M781 284 L798 284" fill="none" stroke="#444" stroke-width="0.95" />
<path d="M774 262 L774 277" fill="none" stroke="#444" stroke-width="0.95" />
<rect x="802.4" y="244.7" width="9.1" height="43" fill="none" stroke="#444" stroke-width="0.8"/>
<path d="M802.4 258 L811.5 258" fill="none" stroke="#444" stroke-width="0.95" />
<path d="M802.4 272 L811.5 272" fill="none" stroke="#444" stroke-width="0.95" />
<rect x="758" y="241" width="2.5" height="19.5" fill="none" stroke="#707070" stroke-width="0.8"/>
<rect x="763" y="241" width="2.5" height="19.5" fill="none" stroke="#707070" stroke-width="0.8"/>
<rect x="817" y="242.4" width="2.4" height="22.6" fill="none" stroke="#707070" stroke-width="0.8"/>
<rect x="822.8" y="242.4" width="4.1" height="32.8" fill="none" stroke="#707070" stroke-width="0.8"/>
<path d="M817 265 L826.9 265" fill="none" stroke="#222" stroke-width="1.3" />
<rect x="837.8" y="276.8" width="13.7" height="17.1" fill="#fff" stroke="#707070" stroke-width="0.8"/>
<path d="M837.8 293.9 L837.8 302" fill="none" stroke="#707070" stroke-width="0.95" />
<path d="M851.8 284 L851.8 302" fill="none" stroke="#707070" stroke-width="0.95" />
<path d="M723 294.5 L770 294.5" fill="none" stroke="#707070" stroke-width="0.95" />
<path d="M723 302.3 L837.8 302.3" fill="none" stroke="#777" stroke-width="1.4" />
<path d="M851.8 302.3 L1018 302.3" fill="none" stroke="#777" stroke-width="1.4" />
<path d="M783.9 302 L837.8 287.2" fill="none" stroke="#444" stroke-width="1.1" />
<path d="M852 284 L872.5 278 L921 302" fill="none" stroke="#707070" stroke-width="0.95" />
<path d="M730 305.8 L780 305.8" fill="none" stroke="#707070" stroke-width="0.95" />
<circle cx="740" cy="300" r="0.7" fill="#333" stroke="none"/>
<circle cx="754" cy="300" r="0.7" fill="#333" stroke="none"/>
<circle cx="768" cy="300" r="0.7" fill="#333" stroke="none"/>
<circle cx="782" cy="300" r="0.7" fill="#333" stroke="none"/>
<circle cx="796" cy="300" r="0.7" fill="#333" stroke="none"/>
<circle cx="810" cy="300" r="0.7" fill="#333" stroke="none"/>
<circle cx="824" cy="300" r="0.7" fill="#333" stroke="none"/>
<circle cx="838" cy="300" r="0.7" fill="#333" stroke="none"/>
<circle cx="852" cy="300" r="0.7" fill="#333" stroke="none"/>
<circle cx="866" cy="300" r="0.7" fill="#333" stroke="none"/>
<circle cx="880" cy="300" r="0.7" fill="#333" stroke="none"/>
<circle cx="894" cy="300" r="0.7" fill="#333" stroke="none"/>
<circle cx="908" cy="300" r="0.7" fill="#333" stroke="none"/>
<circle cx="922" cy="300" r="0.7" fill="#333" stroke="none"/>
<circle cx="936" cy="300" r="0.7" fill="#333" stroke="none"/>
<circle cx="950" cy="300" r="0.7" fill="#333" stroke="none"/>
<circle cx="964" cy="300" r="0.7" fill="#333" stroke="none"/>
<circle cx="978" cy="300" r="0.7" fill="#333" stroke="none"/>
<circle cx="992" cy="300" r="0.7" fill="#333" stroke="none"/>
<circle cx="1006" cy="300" r="0.7" fill="#333" stroke="none"/>
<path d="M904 175.5 L939 175.5 L1018 215.4 L1018 302" fill="none" stroke="#707070" stroke-width="0.95" />
<path d="M904 175.5 L873.5 236.8 L837.5 236.8" fill="none" stroke="#707070" stroke-width="0.95" />
<path d="M890 202.8 L872.6 237.2" fill="none" stroke="#707070" stroke-width="0.95" />
<path d="M969.6 174.8 L1020 174.8 L1003.5 207" fill="none" stroke="#707070" stroke-width="0.95" />
<path d="M969.6 174.8 L958 196" fill="none" stroke="#707070" stroke-width="0.95" />
<path d="M905 195.3 L907 198 L909 195.3" fill="none" stroke="#707070" stroke-width="0.95" />
<path d="M921 195.3 L923 198 L925 195.3" fill="none" stroke="#707070" stroke-width="0.95" />
<rect x="842" y="216.5" width="6" height="5" transform="rotate(-25 845 219)" stroke-width="0.6"/>
<rect x="849" y="213.5" width="6" height="5" transform="rotate(-25 852 216)" stroke-width="0.6"/>
<rect x="845" y="223.5" width="6" height="5" transform="rotate(-25 848 226)" stroke-width="0.6"/>
<rect x="852" y="220.5" width="6" height="5" transform="rotate(-25 855 223)" stroke-width="0.6"/>
<rect x="848" y="229.5" width="6" height="5" transform="rotate(-25 851 232)" stroke-width="0.6"/>
<circle cx="826" cy="180" r="3.2" stroke-width="0.6"/><circle cx="833" cy="187" r="3.6" stroke-width="0.6"/><circle cx="830" cy="184" r="2.5" stroke-width="0.6"/>
<path d="M3 -9 L-3 -9 A6 6 0 0 0 -9 -3 L-9 5 A6 6 0 0 0 -3 11 L3 11 A5 5 0 0 0 7 8" transform="translate(906 217) rotate(28)" stroke-width="0.8"/>
<path d="M3 -5.5 L-2 -5.5 A3.5 3.5 0 0 0 -5.5 -2 L-5.5 4 A3.5 3.5 0 0 0 -2 7.5 L3 7.5" transform="translate(906 217) rotate(28)" stroke-width="0.7"/>
<ellipse cx="886" cy="254.5" rx="10" ry="15.5" transform="rotate(22 886 254.5)" stroke="#333" stroke-width="1.6" stroke-dasharray="2.2 1.2"/>
<ellipse cx="886" cy="254.5" rx="7.8" ry="13" transform="rotate(22 886 254.5)" stroke-width="0.5"/>
<circle cx="865.8" cy="201.7" r="0.8" fill="#333" stroke="none"/>
<circle cx="865.8" cy="265" r="0.8" fill="#333" stroke="none"/>
<circle cx="781" cy="190.4" r="0.8" fill="#333" stroke="none"/>
<circle cx="895" cy="201.7" r="0.8" fill="#333" stroke="none"/>
<circle cx="895" cy="228" r="0.8" fill="#333" stroke="none"/>
<circle cx="895" cy="265" r="0.8" fill="#333" stroke="none"/>
<circle cx="923" cy="201.7" r="0.8" fill="#333" stroke="none"/>
<circle cx="840" cy="265" r="0.8" fill="#333" stroke="none"/>
<path d="M938 196 L1016.4 234" fill="none" stroke="#444" stroke-width="1.0" />
<path d="M938 196 L897 269.2 L938 293.8" fill="none" stroke="#444" stroke-width="1.0" />
<path d="M952 210.7 L994 231.8 L967.2 286.8 L922.7 265.7 Z" fill="#fff" stroke="#2a2a2a" stroke-width="1.2" />
<path d="M952 210.7 L967.2 286.8" fill="none" stroke="#707070" stroke-width="0.7" stroke-dasharray="2 1.5"/>
<path d="M994 231.8 L922.7 265.7" fill="none" stroke="#707070" stroke-width="0.7" stroke-dasharray="2 1.5"/>
<path d="M946 205 L1000 232" fill="none" stroke="#444" stroke-width="0.95" />
<path d="M958 198 L990 214 L988 217 L956 201 L958 198" fill="none" stroke="#707070" stroke-width="0.6" />
<rect x="953.2" y="206.07500000000002" width="8" height="3.2" transform="rotate(26.5 957.2 207.7)" stroke="#444" stroke-width="0.8"/>
<rect x="965.2" y="212.20000000000002" width="8" height="3.2" transform="rotate(26.5 969.2 213.8)" stroke="#444" stroke-width="0.8"/>
<rect x="975.76" y="217.59" width="8" height="3.2" transform="rotate(26.5 979.8 219.2)" stroke="#444" stroke-width="0.8"/>
<rect x="986.8" y="223.225" width="8" height="3.2" transform="rotate(26.5 990.8 224.8)" stroke="#444" stroke-width="0.8"/>
<g transform="translate(938 196) rotate(26)" fill="none" stroke="#333" stroke-width="0.9">
<rect x="3" y="2" width="5" height="14" fill="none" stroke="#222" stroke-width="1.2"/>
<path d="M0 19 L19 19" stroke="#222" stroke-width="1.3"/>
<path d="M0 22 L19 22" stroke="#333" stroke-width="0.9"/>
<path d="M0 46 L19 46" stroke="#222" stroke-width="1.2"/>
<path d="M9 22 L9 46" stroke="#222" stroke-width="1.1"/>
<rect x="1" y="24" width="4" height="5" fill="none" stroke="#333" stroke-width="0.8"/>
<rect x="1" y="31" width="4" height="5" fill="none" stroke="#333" stroke-width="0.8"/>
<rect x="1" y="38" width="4" height="6" fill="none" stroke="#333" stroke-width="0.8"/>
<rect x="10" y="24" width="4" height="4" fill="none" stroke="#333" stroke-width="0.8"/>
<rect x="14.5" y="24" width="3.5" height="4" fill="none" stroke="#333" stroke-width="0.8"/>
<rect x="10" y="30" width="4" height="5" fill="none" stroke="#333" stroke-width="0.8"/>
<rect x="14.5" y="30" width="3.5" height="5" fill="none" stroke="#333" stroke-width="0.8"/>
<rect x="10" y="37" width="8" height="7" fill="none" stroke="#333" stroke-width="0.8"/>
<rect x="5.5" y="26" width="3.0" height="7" fill="none" stroke="#333" stroke-width="0.8"/>
<rect x="5.5" y="35" width="3.0" height="8" fill="none" stroke="#333" stroke-width="0.8"/>
<rect x="2" y="49" width="10" height="17" fill="#f2f2f2" stroke="#444" stroke-width="0.8"/>
<rect x="3" y="58" width="8" height="8" fill="#ddd" stroke="#222" stroke-width="1.0"/>
<path d="M3 62 L11 62" stroke="#555" stroke-width="0.5"/>
<path d="M7 58 L7 66" stroke="#555" stroke-width="0.5"/>
<path d="M12 49 L12 69" stroke="#444" stroke-width="0.9"/>
<path d="M0 69 L19 69" stroke="#333" stroke-width="1.0"/>
<rect x="1.5" y="73" width="5.6" height="8" rx="1.8" fill="#f0f0f0" stroke="#444" stroke-width="0.8"/>
<rect x="8.1" y="73" width="5.6" height="8" rx="1.8" fill="#f0f0f0" stroke="#444" stroke-width="0.8"/>
<rect x="14.7" y="73" width="5.6" height="8" rx="1.8" fill="#f0f0f0" stroke="#444" stroke-width="0.8"/>
<rect x="21.299999999999997" y="73" width="5.6" height="8" rx="1.8" fill="#f0f0f0" stroke="#444" stroke-width="0.8"/>
<path d="M0 71 L28 71" stroke="#444" stroke-width="0.9"/>
<rect x="28" y="70" width="22" height="6" fill="none" stroke="#222" stroke-width="1.1"/>
<rect x="30" y="77" width="8" height="7" fill="#eee" stroke="#222" stroke-width="1.0"/>
<rect x="40" y="77" width="8" height="8" fill="#eee" stroke="#222" stroke-width="1.0"/>
<path d="M50 72 L50 84" stroke="#111" stroke-width="1.6"/>
<rect x="68" y="52" width="3" height="14" fill="none" stroke="#666" stroke-width="0.6"/>
</g>
<rect x="993" y="233" width="25" height="69" fill="none" stroke="#444" stroke-width="1.0"/>
<path d="M993 255.2 L1018 255.2" fill="none" stroke="#222" stroke-width="1.1" />
<path d="M993 271.6 L1018 271.6" fill="none" stroke="#222" stroke-width="1.2" />
<path d="M993 273.5 L1018 273.5" fill="none" stroke="#444" stroke-width="0.95" />
<path d="M993 233 L1000 236.5 L996 245" fill="none" stroke="#444" stroke-width="0.95" />
<path d="M1016.4 234 L1018 235" fill="none" stroke="#444" stroke-width="0.95" />
<rect x="944" y="302" width="61" height="4" fill="none" stroke="#707070" stroke-width="0.8"/>
</g>
<path d="M844.8 305.4 L849.2 309.9 L840.4 309.9 Z" fill="#111"/>
<clipPath id="clipmap"><rect x="270" y="0" width="914" height="440"/></clipPath>
<g id="trees" fill="none" stroke="#858585" stroke-width="0.8" clip-path="url(#clipmap)">
<use href="#tr" transform="translate(306 174) scale(0.80)"/><circle cx="306" cy="174" r="1.1" fill="#8a8a8a" stroke="none"/>
<use href="#tr" transform="translate(299 189) scale(0.82)"/><circle cx="299" cy="189" r="1.1" fill="#8a8a8a" stroke="none"/>
<use href="#tr" transform="translate(300 212) scale(0.83)"/><circle cx="300" cy="212" r="1.1" fill="#8a8a8a" stroke="none"/>
<use href="#tr" transform="translate(309 232.5) scale(0.87)"/><circle cx="309" cy="232.5" r="1.1" fill="#8a8a8a" stroke="none"/>
<use href="#tr" transform="translate(291 253) scale(0.81)"/><circle cx="291" cy="253" r="1.1" fill="#8a8a8a" stroke="none"/>
<use href="#tr" transform="translate(317 255) scale(0.82)"/><circle cx="317" cy="255" r="1.1" fill="#8a8a8a" stroke="none"/>
<use href="#tr" transform="translate(289 280) scale(0.90)"/><circle cx="289" cy="280" r="1.1" fill="#8a8a8a" stroke="none"/>
<use href="#tr" transform="translate(326 278) scale(0.84)"/><circle cx="326" cy="278" r="1.1" fill="#8a8a8a" stroke="none"/>
<use href="#tr" transform="translate(288 301) scale(0.86)"/><circle cx="288" cy="301" r="1.1" fill="#8a8a8a" stroke="none"/>
<use href="#tr" transform="translate(315.5 298) scale(0.87)"/><circle cx="315.5" cy="298" r="1.1" fill="#8a8a8a" stroke="none"/>
<use href="#tr" transform="translate(336 312.5) scale(0.74)"/><circle cx="336" cy="312.5" r="1.1" fill="#8a8a8a" stroke="none"/>
<use href="#tr" transform="translate(309 319) scale(0.70)"/><circle cx="309" cy="319" r="1.1" fill="#8a8a8a" stroke="none"/>
<use href="#tr" transform="translate(296 337) scale(0.98)"/><circle cx="296" cy="337" r="1.1" fill="#8a8a8a" stroke="none"/>
<use href="#tr" transform="translate(321 336) scale(1.00)"/><circle cx="321" cy="336" r="1.1" fill="#8a8a8a" stroke="none"/>
<use href="#tr" transform="translate(325 355) scale(0.94)"/><circle cx="325" cy="355" r="1.1" fill="#8a8a8a" stroke="none"/>
<use href="#tr" transform="translate(362.5 347) scale(0.97)"/><circle cx="362.5" cy="347" r="1.1" fill="#8a8a8a" stroke="none"/>
<use href="#tr" transform="translate(378 342.5) scale(0.99)"/><circle cx="378" cy="342.5" r="1.1" fill="#8a8a8a" stroke="none"/>
<use href="#tr" transform="translate(423 343) scale(1.02)"/><circle cx="423" cy="343" r="1.1" fill="#8a8a8a" stroke="none"/>
<use href="#tr" transform="translate(379.5 375.5) scale(0.96)"/><circle cx="379.5" cy="375.5" r="1.1" fill="#8a8a8a" stroke="none"/>
<use href="#tr" transform="translate(401 369.5) scale(0.98)"/><circle cx="401" cy="369.5" r="1.1" fill="#8a8a8a" stroke="none"/>
<use href="#tr" transform="translate(423 392) scale(1.00)"/><circle cx="423" cy="392" r="1.1" fill="#8a8a8a" stroke="none"/>
<use href="#tr" transform="translate(454 374) scale(0.94)"/><circle cx="454" cy="374" r="1.1" fill="#8a8a8a" stroke="none"/>
<use href="#tr" transform="translate(452.5 412) scale(0.97)"/><circle cx="452.5" cy="412" r="1.1" fill="#8a8a8a" stroke="none"/>
<use href="#tr" transform="translate(482.5 395) scale(0.99)"/><circle cx="482.5" cy="395" r="1.1" fill="#8a8a8a" stroke="none"/>
<use href="#tr" transform="translate(494 405) scale(1.02)"/><circle cx="494" cy="405" r="1.1" fill="#8a8a8a" stroke="none"/>
<use href="#tr" transform="translate(488 352) scale(0.96)"/><circle cx="488" cy="352" r="1.1" fill="#8a8a8a" stroke="none"/>
<use href="#tr" transform="translate(512.5 333) scale(0.98)"/><circle cx="512.5" cy="333" r="1.1" fill="#8a8a8a" stroke="none"/>
<use href="#tr" transform="translate(521 364.5) scale(1.00)"/><circle cx="521" cy="364.5" r="1.1" fill="#8a8a8a" stroke="none"/>
<use href="#tr" transform="translate(539.5 400) scale(0.94)"/><circle cx="539.5" cy="400" r="1.1" fill="#8a8a8a" stroke="none"/>
<use href="#tr" transform="translate(559 330) scale(0.84)"/><circle cx="559" cy="330" r="1.1" fill="#8a8a8a" stroke="none"/>
<use href="#tr" transform="translate(567 344) scale(0.99)"/><circle cx="567" cy="344" r="1.1" fill="#8a8a8a" stroke="none"/>
<use href="#tr" transform="translate(562.5 377.5) scale(1.02)"/><circle cx="562.5" cy="377.5" r="1.1" fill="#8a8a8a" stroke="none"/>
<use href="#tr" transform="translate(591 400) scale(0.96)"/><circle cx="591" cy="400" r="1.1" fill="#8a8a8a" stroke="none"/>
<use href="#tr" transform="translate(642 356) scale(0.98)"/><circle cx="642" cy="356" r="1.1" fill="#8a8a8a" stroke="none"/>
<use href="#tr" transform="translate(669 345.5) scale(0.88)"/><circle cx="669" cy="345.5" r="1.1" fill="#8a8a8a" stroke="none"/>
<use href="#tr" transform="translate(633 419) scale(0.94)"/><circle cx="633" cy="419" r="1.1" fill="#8a8a8a" stroke="none"/>
<use href="#tr" transform="translate(683 369.5) scale(0.97)"/><circle cx="683" cy="369.5" r="1.1" fill="#8a8a8a" stroke="none"/>
<use href="#tr" transform="translate(704 368) scale(0.82)"/><circle cx="704" cy="368" r="1.1" fill="#8a8a8a" stroke="none"/>
<use href="#tr" transform="translate(702 385.5) scale(0.89)"/><circle cx="702" cy="385.5" r="1.1" fill="#8a8a8a" stroke="none"/>
<use href="#tr" transform="translate(712.5 399) scale(0.78)"/><circle cx="712.5" cy="399" r="1.1" fill="#8a8a8a" stroke="none"/>
<use href="#tr" transform="translate(723 388) scale(0.81)"/><circle cx="723" cy="388" r="1.1" fill="#8a8a8a" stroke="none"/>
<use href="#tr" transform="translate(751.7 355) scale(0.78)"/><circle cx="751.7" cy="355" r="1.1" fill="#8a8a8a" stroke="none"/>
<use href="#tr" transform="translate(753 367.5) scale(0.72)"/><circle cx="753" cy="367.5" r="1.1" fill="#8a8a8a" stroke="none"/>
<use href="#tr" transform="translate(790.5 89) scale(0.97)"/><circle cx="790.5" cy="89" r="1.1" fill="#8a8a8a" stroke="none"/>
<use href="#tr" transform="translate(812.5 87.5) scale(0.99)"/><circle cx="812.5" cy="87.5" r="1.1" fill="#8a8a8a" stroke="none"/>
<use href="#tr" transform="translate(835 85) scale(1.02)"/><circle cx="835" cy="85" r="1.1" fill="#8a8a8a" stroke="none"/>
<use href="#tr" transform="translate(857.5 80) scale(0.96)"/><circle cx="857.5" cy="80" r="1.1" fill="#8a8a8a" stroke="none"/>
<use href="#tr" transform="translate(877.5 73) scale(0.98)"/><circle cx="877.5" cy="73" r="1.1" fill="#8a8a8a" stroke="none"/>
<use href="#tr" transform="translate(1134 56) scale(0.90)"/><circle cx="1134" cy="56" r="1.1" fill="#8a8a8a" stroke="none"/>
<use href="#tr" transform="translate(1148.5 74) scale(0.84)"/><circle cx="1148.5" cy="74" r="1.1" fill="#8a8a8a" stroke="none"/>
<use href="#tr" transform="translate(1140.5 92) scale(0.87)"/><circle cx="1140.5" cy="92" r="1.1" fill="#8a8a8a" stroke="none"/>
<use href="#tr" transform="translate(1148.5 127.5) scale(0.89)"/><circle cx="1148.5" cy="127.5" r="1.1" fill="#8a8a8a" stroke="none"/>
<use href="#tr" transform="translate(1140 143.6) scale(0.92)"/><circle cx="1140" cy="143.6" r="1.1" fill="#8a8a8a" stroke="none"/>
<use href="#tr" transform="translate(1167.4 160) scale(0.86)"/><circle cx="1167.4" cy="160" r="1.1" fill="#8a8a8a" stroke="none"/>
<use href="#tr" transform="translate(1142 171) scale(0.88)"/><circle cx="1142" cy="171" r="1.1" fill="#8a8a8a" stroke="none"/>
<use href="#tr" transform="translate(1181.6 124.6) scale(0.90)"/><circle cx="1181.6" cy="124.6" r="1.1" fill="#8a8a8a" stroke="none"/>
<use href="#tr" transform="translate(1181.6 143) scale(0.84)"/><circle cx="1181.6" cy="143" r="1.1" fill="#8a8a8a" stroke="none"/>
<use href="#tr" transform="translate(1172.5 182) scale(0.87)"/><circle cx="1172.5" cy="182" r="1.1" fill="#8a8a8a" stroke="none"/>
<use href="#tr" transform="translate(1141 202.5) scale(0.89)"/><circle cx="1141" cy="202.5" r="1.1" fill="#8a8a8a" stroke="none"/>
<use href="#tr" transform="translate(1122 222) scale(0.92)"/><circle cx="1122" cy="222" r="1.1" fill="#8a8a8a" stroke="none"/>
<use href="#tr" transform="translate(1138 234.5) scale(0.86)"/><circle cx="1138" cy="234.5" r="1.1" fill="#8a8a8a" stroke="none"/>
<use href="#tr" transform="translate(1122 239.5) scale(0.88)"/><circle cx="1122" cy="239.5" r="1.1" fill="#8a8a8a" stroke="none"/>
<use href="#tr" transform="translate(1097 265) scale(0.90)"/><circle cx="1097" cy="265" r="1.1" fill="#8a8a8a" stroke="none"/>
<use href="#tr" transform="translate(1151 265) scale(0.84)"/><circle cx="1151" cy="265" r="1.1" fill="#8a8a8a" stroke="none"/>
<use href="#tr" transform="translate(1086 289) scale(0.87)"/><circle cx="1086" cy="289" r="1.1" fill="#8a8a8a" stroke="none"/>
<use href="#tr" transform="translate(1110 289) scale(0.89)"/><circle cx="1110" cy="289" r="1.1" fill="#8a8a8a" stroke="none"/>
<use href="#tr" transform="translate(1175 291) scale(0.92)"/><circle cx="1175" cy="291" r="1.1" fill="#8a8a8a" stroke="none"/>
<use href="#tr" transform="translate(1063 311) scale(0.83)"/><circle cx="1063" cy="311" r="1.1" fill="#8a8a8a" stroke="none"/>
<use href="#tr" transform="translate(1118 316) scale(0.98)"/><circle cx="1118" cy="316" r="1.1" fill="#8a8a8a" stroke="none"/>
<use href="#tr" transform="translate(1151 328) scale(1.00)"/><circle cx="1151" cy="328" r="1.1" fill="#8a8a8a" stroke="none"/>
<use href="#tr" transform="translate(1180 313) scale(0.94)"/><circle cx="1180" cy="313" r="1.1" fill="#8a8a8a" stroke="none"/>
<use href="#tr" transform="translate(1067 349) scale(0.97)"/><circle cx="1067" cy="349" r="1.1" fill="#8a8a8a" stroke="none"/>
<use href="#tr" transform="translate(1098 368) scale(0.99)"/><circle cx="1098" cy="368" r="1.1" fill="#8a8a8a" stroke="none"/>
<use href="#tr" transform="translate(1035 372) scale(1.02)"/><circle cx="1035" cy="372" r="1.1" fill="#8a8a8a" stroke="none"/>
<use href="#tr" transform="translate(1007 395.3) scale(0.96)"/><circle cx="1007" cy="395.3" r="1.1" fill="#8a8a8a" stroke="none"/>
<use href="#tr" transform="translate(1028 241) scale(0.76)"/><circle cx="1028" cy="241" r="1.1" fill="#8a8a8a" stroke="none"/>
<use href="#tr" transform="translate(1025 273) scale(0.76)"/><circle cx="1025" cy="273" r="1.1" fill="#8a8a8a" stroke="none"/>
<use href="#tr" transform="translate(1042.5 287) scale(0.76)"/><circle cx="1042.5" cy="287" r="1.1" fill="#8a8a8a" stroke="none"/>
<use href="#tr" stroke="#8a8a8a" transform="translate(768 368) scale(0.8)"/><circle cx="768" cy="368" r="0.8" fill="#888" stroke="none"/>
<use href="#tr" stroke="#8a8a8a" transform="translate(781 352.5) scale(0.8)"/><circle cx="781" cy="352.5" r="0.8" fill="#888" stroke="none"/>
<use href="#tr" stroke="#8a8a8a" transform="translate(779.5 357.5) scale(0.8)"/><circle cx="779.5" cy="357.5" r="0.8" fill="#888" stroke="none"/>
<use href="#tr" stroke="#8a8a8a" transform="translate(811 355) scale(0.8)"/><circle cx="811" cy="355" r="0.8" fill="#888" stroke="none"/>
<use href="#tr" stroke="#8a8a8a" transform="translate(817.5 364) scale(0.8)"/><circle cx="817.5" cy="364" r="0.8" fill="#888" stroke="none"/>
<use href="#tr" stroke="#8a8a8a" transform="translate(826.7 358.5) scale(0.8)"/><circle cx="826.7" cy="358.5" r="0.8" fill="#888" stroke="none"/>
<use href="#tr" stroke="#8a8a8a" transform="translate(839.7 371) scale(0.8)"/><circle cx="839.7" cy="371" r="0.8" fill="#888" stroke="none"/>
<use href="#tr" stroke="#8a8a8a" transform="translate(849.7 356) scale(0.8)"/><circle cx="849.7" cy="356" r="0.8" fill="#888" stroke="none"/>
<use href="#tr" stroke="#8a8a8a" transform="translate(861 360) scale(0.8)"/><circle cx="861" cy="360" r="0.8" fill="#888" stroke="none"/>
<use href="#tr" stroke="#8a8a8a" transform="translate(874.7 364.7) scale(0.8)"/><circle cx="874.7" cy="364.7" r="0.8" fill="#888" stroke="none"/>
<use href="#tr" stroke="#8a8a8a" transform="translate(888 355) scale(0.8)"/><circle cx="888" cy="355" r="0.8" fill="#888" stroke="none"/>
<use href="#tr" stroke="#8a8a8a" transform="translate(894 363) scale(0.8)"/><circle cx="894" cy="363" r="0.8" fill="#888" stroke="none"/>
<use href="#tr" transform="translate(968 379) scale(0.76)"/><circle cx="968" cy="379" r="1" fill="#8a8a8a" stroke="none"/>
<use href="#tr" transform="translate(947.5 374.5) scale(0.76)"/><circle cx="947.5" cy="374.5" r="1" fill="#8a8a8a" stroke="none"/>
<use href="#tr" transform="translate(962 360.5) scale(0.76)"/><circle cx="962" cy="360.5" r="1" fill="#8a8a8a" stroke="none"/>
<use href="#tr" transform="translate(927 352) scale(0.76)"/><circle cx="927" cy="352" r="1" fill="#8a8a8a" stroke="none"/>
<use href="#tr" transform="translate(925.5 361.4) scale(0.76)"/><circle cx="925.5" cy="361.4" r="1" fill="#8a8a8a" stroke="none"/>
<use href="#tr" transform="translate(932 368) scale(0.76)"/><circle cx="932" cy="368" r="1" fill="#8a8a8a" stroke="none"/>
<use href="#tr" transform="translate(1012.8 322) scale(0.76)"/><circle cx="1012.8" cy="322" r="1" fill="#8a8a8a" stroke="none"/>
<use href="#tr" transform="translate(465.5 180) scale(0.57)" stroke-width="1.2"/><circle cx="465.5" cy="180" r="0.7" fill="#777" stroke="none"/>
<use href="#tr" transform="translate(522 180) scale(0.57)" stroke-width="1.2"/><circle cx="522" cy="180" r="0.7" fill="#777" stroke="none"/>
<use href="#tr" transform="translate(494.5 169.5) scale(0.57)" stroke-width="1.2"/><circle cx="494.5" cy="169.5" r="0.7" fill="#777" stroke="none"/>
<use href="#tr" transform="translate(551 169.5) scale(0.57)" stroke-width="1.2"/><circle cx="551" cy="169.5" r="0.7" fill="#777" stroke="none"/>
<use href="#tr" transform="translate(752 132) scale(0.57)" stroke-width="1.2"/><circle cx="752" cy="132" r="0.7" fill="#777" stroke="none"/>
<use href="#tr" transform="translate(809 134) scale(0.57)" stroke-width="1.2"/><circle cx="809" cy="134" r="0.7" fill="#777" stroke="none"/>
<use href="#tr" transform="translate(708 161) scale(0.57)" stroke-width="1.2"/><circle cx="708" cy="161" r="0.7" fill="#777" stroke="none"/>
<use href="#tr" transform="translate(766 161) scale(0.57)" stroke-width="1.2"/><circle cx="766" cy="161" r="0.7" fill="#777" stroke="none"/>
<use href="#tr" transform="translate(981 100.6) scale(0.57)" stroke-width="1.2"/><circle cx="981" cy="100.6" r="0.7" fill="#777" stroke="none"/>
<use href="#tr" transform="translate(1039 100.6) scale(0.57)" stroke-width="1.2"/><circle cx="1039" cy="100.6" r="0.7" fill="#777" stroke="none"/>
</g>
<g id="labels" font-size="13.5" fill="#111">
<text x="430.2" y="258.7">09</text>
<text x="562.4" y="283.7">08</text>
<text x="767.6" y="207.7">06</text>
<text x="780.3" y="279.3">07</text>
<text x="844.3" y="261.7">02</text>
<text x="878.1" y="260.1">03</text>
<text x="901.1" y="220.3">04</text>
<text x="918.1" y="187.3">05</text>
<text x="997.6" y="291.7">03</text>
<text x="836.3" y="331.8">01</text>
</g>
<g font-size="13.5" fill="#111">
<text transform="translate(769.5 19.5) rotate(90)">A</text>
<text transform="translate(867 18.8) rotate(90)">B</text>
<text transform="translate(804 317) rotate(90)">A</text>
<text transform="translate(866.5 317.3) rotate(90)">B</text>
</g>
<g font-size="12.9" fill="#111">
<text x="55.2" y="323.0">01</text><text x="128.6" y="323.0">Entrance square</text>
<text x="55.2" y="340.1">02</text><text x="128.6" y="340.1">Lobby</text>
<text x="55.2" y="357.3">03</text><text x="128.6" y="357.3">Meeting room</text>
<text x="55.2" y="374.4">04</text><text x="128.6" y="374.4">Lobby bar</text>
<text x="55.2" y="391.5">05</text><text x="128.6" y="391.5">Lobby bar terrace</text>
<text x="55.2" y="408.6">06</text><text x="128.6" y="408.6">Restaurant</text>
<text x="55.2" y="425.8">07</text><text x="128.6" y="425.8">Administration</text>
<text x="55.2" y="442.9">08</text><text x="128.6" y="442.9">Indoor pool area</text>
<text x="55.2" y="460.0">09</text><text x="128.6" y="460.0">Outdoor pool area</text>
</g>
<line x1="100.6" y1="304" x2="100.6" y2="465.6" stroke="#777" stroke-width="1"/>
<line x1="16.7" y1="564.8" x2="16.7" y2="603" stroke="#b0b0b0" stroke-width="1.4"/>
<line x1="270" y1="564.8" x2="270" y2="603" stroke="#b0b0b0" stroke-width="1.4"/>
<line x1="524.2" y1="564.8" x2="524.2" y2="603" stroke="#b0b0b0" stroke-width="1.4"/>
<line x1="778" y1="564.8" x2="778" y2="603" stroke="#b0b0b0" stroke-width="1.4"/>
<g id="logo" font-size="35" font-weight="bold" fill="#fff" stroke="#1a1a1a" stroke-width="1.4" stroke-linejoin="round">
<text x="33.8" y="597.2" textLength="29" lengthAdjust="spacingAndGlyphs">3</text>
<text x="65.2" y="597.2" textLength="30" lengthAdjust="spacingAndGlyphs">L</text>
<text x="96.5" y="597.2" textLength="31" lengthAdjust="spacingAndGlyphs">H</text>
<text x="128.5" y="597.2" textLength="30" lengthAdjust="spacingAndGlyphs">D</text>
</g>
<g font-size="13" fill="#111">
<text x="289.8" y="578.6" font-weight="bold">project:</text><text x="289.4" y="594.2">Hotel Park</text>
<text x="543.5" y="578.6" font-weight="bold">appendix:</text><text x="543.5" y="595">Floor plan 5</text>
<text x="791" y="579.6" font-weight="bold" font-size="12.4">m</text><text x="809.4" y="579.6" font-weight="bold" font-size="12.4">5</text><text x="822" y="579.6" font-weight="bold" font-size="12.4">10</text><text x="948.5" y="579.6" font-weight="bold" font-size="12.4">50</text>
</g>
<line x1="796.7" y1="588.5" x2="796.7" y2="603" stroke="#999" stroke-width="1.1"/>
<line x1="812.2" y1="588.5" x2="812.2" y2="603" stroke="#999" stroke-width="1.1"/>
<line x1="828.75" y1="588.5" x2="828.75" y2="603" stroke="#999" stroke-width="1.1"/>
<line x1="955.6" y1="588.5" x2="955.6" y2="603" stroke="#999" stroke-width="1.1"/>
</svg>
</body></html>
